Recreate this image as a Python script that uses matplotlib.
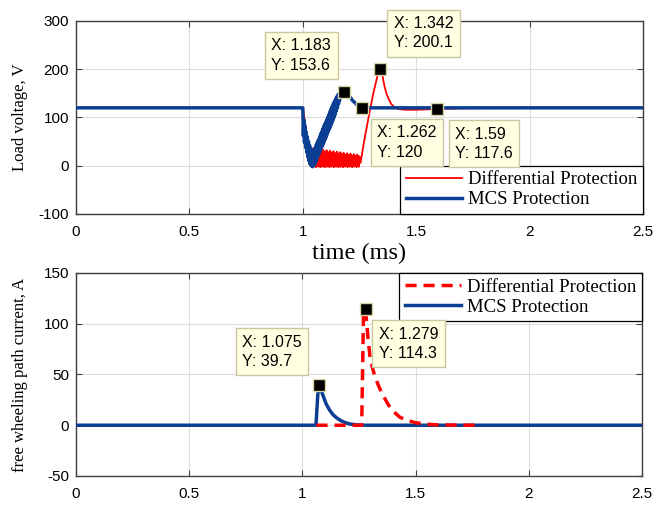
import matplotlib
matplotlib.use("Agg")
import matplotlib.pyplot as plt

# --- top panel: load voltage (V) ---
t_mcs_v = [0, 1.0000, 1.0025, 1.0050, 1.0075, 1.0100, 1.0125, 1.0150, 1.0175, 1.0200,
           1.0225, 1.0250, 1.0275, 1.0300, 1.0325, 1.0350, 1.0375, 1.0400, 1.0425,
           1.0450, 1.0475, 1.0500,
           1.0525, 1.0550, 1.0575, 1.0600, 1.0625, 1.0650, 1.0675, 1.0700, 1.0725, 1.0750,
           1.0775, 1.0800, 1.0825, 1.0850, 1.0875, 1.0900, 1.0925, 1.0950, 1.0975, 1.1000,
           1.1025, 1.1050, 1.1075, 1.1100, 1.1125, 1.1150, 1.1175, 1.1200, 1.1225, 1.1250,
           1.1275, 1.1300, 1.1325, 1.1350, 1.1375, 1.1400, 1.1425, 1.1450, 1.1475, 1.1500,
           1.1525, 1.1550, 1.1575, 1.1600, 1.1625, 1.1650, 1.1675, 1.1700,
           1.175, 1.180, 1.183, 1.200, 1.220, 1.240, 1.262, 2.5]
v_mcs = [120, 120, 62, 95, 48, 82, 38, 70, 28, 60,
         18, 50, 10, 42, 3, 35, 0, 30, -2,
         30, 0, 33,
         3, 38, 8, 44, 14, 50, 20, 55, 25, 61,
         31, 67, 37, 72, 42, 78, 48, 84, 54, 89,
         59, 95, 65, 101, 71, 106, 76, 112, 82, 118,
         88, 123, 94, 129, 100, 134, 106, 139, 113, 143,
         120, 147, 128, 150, 136, 152, 143, 153,
         150, 153, 153.6, 148, 135, 126, 120, 120]

t_diff_v = [0, 1.000, 1.010, 1.020, 1.030, 1.040,
            1.0450, 1.0475, 1.0500, 1.0525, 1.0550, 1.0575, 1.0600, 1.0625,
            1.0650, 1.0675, 1.0700, 1.0725, 1.0750, 1.0775, 1.0800, 1.0825,
            1.0850, 1.0875, 1.0900, 1.0925, 1.0950, 1.0975, 1.1000, 1.1025,
            1.1050, 1.1075, 1.1100, 1.1125, 1.1150, 1.1175, 1.1200, 1.1225,
            1.1250, 1.1275, 1.1300, 1.1325, 1.1350, 1.1375, 1.1400, 1.1425,
            1.1450, 1.1475, 1.1500, 1.1525, 1.1550, 1.1575, 1.1600, 1.1625,
            1.1650, 1.1675, 1.1700, 1.1725, 1.1750, 1.1775, 1.1800, 1.1825,
            1.1850, 1.1875, 1.1900, 1.1925, 1.1950, 1.1975, 1.2000, 1.2025,
            1.2050, 1.2075, 1.2100, 1.2125, 1.2150, 1.2175, 1.2200, 1.2225,
            1.2250, 1.2275, 1.2300, 1.2325, 1.2350, 1.2375, 1.2400, 1.2425,
            1.2450, 1.2475, 1.2500,
            1.255, 1.270, 1.290, 1.310, 1.330, 1.342,
            1.350, 1.360, 1.370, 1.380, 1.390, 1.400, 1.420, 1.450, 1.500, 1.590,
            1.700, 2.000, 2.5]
v_diff = [120, 120, 90, 50, 20, 5,
          36, -2, 33, 0, 30, -3, 35, -1,
          32, -2, 29, 0, 34, -3, 31, -1,
          28, -2, 33, 0, 30, -3, 27, -1,
          32, -2, 29, 0, 26, -3, 31, -1,
          28, -2, 25, 0, 30, -3, 27, -1,
          24, -2, 29, 0, 26, -3, 23, -1,
          28, -2, 25, 0, 22, -3, 27, -1,
          24, -2, 21, 0, 26, -3, 23, -1,
          20, -2, 25, 0, 22, -3, 19, -1,
          24, -2, 21, 0, 18, -3, 23, -1,
          20, -2, 19,
          6, 50, 100, 148, 188, 200.1,
          190, 165, 148, 137, 128, 123, 118, 116, 116, 117.6,
          119, 120, 120]

# --- bottom panel: free wheeling path current (A) ---
t_mcs_i = [0, 1.060, 1.068, 1.075, 1.090, 1.105, 1.120, 1.135, 1.150, 1.170,
           1.190, 1.210, 1.240, 1.280, 2.5]
i_mcs = [0, 0, 30, 39.7, 30, 21, 15, 10.5, 7.5, 4.5, 2.5, 1.2, 0.4, 0, 0]

t_diff_i = [1.062, 1.262, 1.270, 1.279, 1.290, 1.300, 1.320, 1.340, 1.360, 1.380,
            1.400, 1.430, 1.460, 1.500, 1.550, 1.600, 1.780]
i_diff = [0, 0, 110, 114.3, 85, 65, 48, 37, 28, 20, 14, 8, 5, 2.5, 1, 0.3, 0]

# data tips: (x, y, label offset in points)
tips_v = [(1.183, 153.6, (-31, 26)), (1.342, 200.1, (31, 26)),
          (1.262, 120, (32, -25)), (1.59, 117.6, (34, -25))]
tips_i = [(1.075, 39.7, (-34, 24)), (1.279, 114.3, (31, -25))]

xticks = [0, 0.5, 1, 1.5, 2, 2.5]
xticklabels = ["0", "0.5", "1", "1.5", "2", "2.5"]

RED = "#ff0000"
BLUE = "#0b3f94"
SERIF = "Liberation Serif"
SANS = "Liberation Sans"

fig = plt.figure(figsize=(6.7, 5.18), dpi=100)
ax1 = fig.add_axes([0.1134, 0.5869, 0.8463, 0.3726])
ax2 = fig.add_axes([0.1134, 0.0811, 0.8448, 0.3919])


def style_axes(ax, yticks):
    ax.set_xlim(0, 2.5)
    ax.set_ylim(yticks[0], yticks[-1])
    ax.set_xticks(xticks)
    ax.set_xticklabels(xticklabels)
    ax.set_yticks(yticks)
    ax.set_yticklabels([str(v) for v in yticks])
    ax.grid(True, color="#dcdcdc", lw=0.8)
    ax.set_axisbelow(True)
    ax.tick_params(axis="both", direction="in", length=4, width=0.8, color="#404040",
                   top=True, right=True, labelsize=11)
    ax.tick_params(axis="x", pad=8)
    ax.tick_params(axis="y", pad=5)
    for lab in ax.get_xticklabels() + ax.get_yticklabels():
        lab.set_family(SANS)
    for sp in ax.spines.values():
        sp.set_color("#404040")
        sp.set_linewidth(1.0)


def datatip(ax, x, y, off):
    ax.plot([x], [y], marker="s", ms=9, mfc="black", mec="#d8d4a8", mew=1.0,
            ls="none", zorder=6)
    ax.annotate(f"X: {x:g}\nY: {y:g}", xy=(x, y), xytext=off, textcoords="offset points",
                ha="center", va="center", multialignment="left", fontsize=11.5,
                family=SANS, linespacing=1.35,
                bbox=dict(boxstyle="square,pad=0.4", fc="#ffffe1", ec="#c9c6a0", lw=1.0),
                zorder=7, annotation_clip=False)


def make_legend(ax, handles, labels, loc):
    leg = ax.legend(handles, labels, loc=loc, prop={"family": SERIF, "size": 13.5},
                    fancybox=False, framealpha=1, edgecolor="black", borderaxespad=0,
                    handlelength=3.0, handletextpad=0.3, labelspacing=0.15, borderpad=0.3)
    leg.get_frame().set_linewidth(0.9)
    leg.set_zorder(5)


# top panel
ax1.plot(t_diff_v, v_diff, color=RED, lw=1.3, label="Differential Protection", zorder=3)
ax1.plot(t_mcs_v, v_mcs, color=BLUE, lw=2.5, label="MCS Protection", zorder=4)
style_axes(ax1, [-100, 0, 100, 200, 300])
ax1.set_ylabel("Load voltage, V", family=SERIF, fontsize=12)
ax1.yaxis.set_label_coords(-0.084, 0.5)
ax1.set_xlabel("time (ms)", family=SERIF, fontsize=17.5, va="top")
ax1.xaxis.set_label_coords(0.5, -0.15)
h, l = ax1.get_legend_handles_labels()
make_legend(ax1, h, l, "lower right")
for x, y, off in tips_v:
    datatip(ax1, x, y, off)

# bottom panel
ax2.plot(t_mcs_i, i_mcs, color=BLUE, lw=2.5, label="MCS Protection", zorder=3)
ax2.plot(t_diff_i, i_diff, color=RED, lw=2.5, ls=(0, (3.2, 2.0)),
         label="Differential Protection", zorder=4)
style_axes(ax2, [-50, 0, 50, 100, 150])
ax2.set_ylabel("free wheeling path current, A", family=SERIF, fontsize=12)
ax2.yaxis.set_label_coords(-0.084, 0.5)
h, l = ax2.get_legend_handles_labels()
make_legend(ax2, h[::-1], l[::-1], "upper right")
for x, y, off in tips_i:
    datatip(ax2, x, y, off)

fig.savefig("out.png", dpi=100)
